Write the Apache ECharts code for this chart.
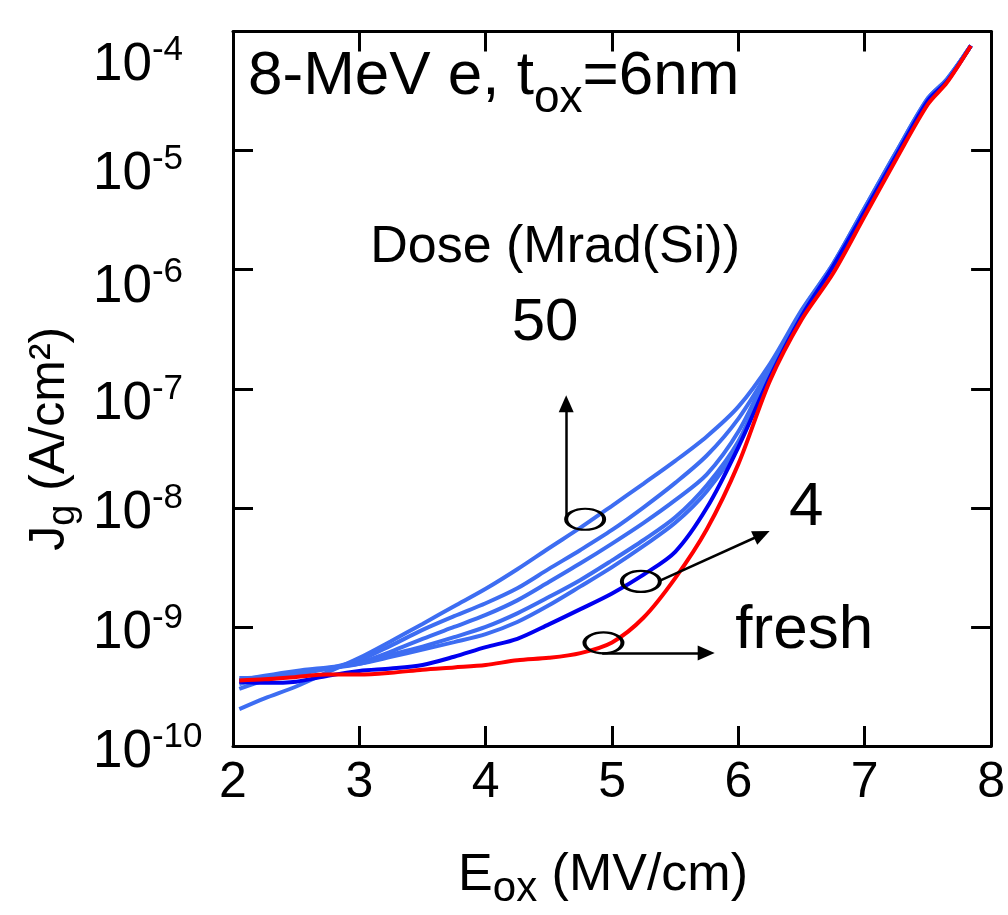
<!DOCTYPE html>
<html>
<head>
<meta charset="utf-8">
<script src="https://cdn.jsdelivr.net/npm/echarts@6/dist/echarts.min.js"></script>
<style>
html,body{margin:0;padding:0;background:#ffffff;}
#chart{width:1008px;height:915px;}
</style>
</head>
<body>
<div id="chart"></div>
<script>
// ---------------- data ----------------
// oxide field E_ox (MV/cm)
const fieldEox = [2.05, 2.25, 2.5, 2.75, 3.0, 3.25, 3.5, 3.75, 4.0, 4.25, 4.5, 4.75, 5.0, 5.25, 5.5, 5.75, 6.0, 6.25, 6.5, 6.75, 7.0, 7.25, 7.5, 7.65, 7.84];

// gate current density J_g (A/cm^2)
const jgDose50 = [2.04e-10, 2.51e-10, 3.16e-10, 4.17e-10, 5.50e-10, 7.59e-10, 1.06e-9, 1.49e-9, 2.09e-9, 3.05e-9, 4.58e-9, 6.81e-9, 1.04e-8, 1.60e-8, 2.48e-8, 3.98e-8, 7.08e-8, 1.62e-7, 4.57e-7, 1.12e-6, 3.31e-6, 9.77e-6, 2.75e-5, 3.98e-5, 7.6e-5];
const jgDoseL5 = [3.02e-10, 3.55e-10, 3.98e-10, 4.47e-10, 5.25e-10, 6.97e-10, 9.44e-10, 1.23e-9, 1.58e-9, 2.11e-9, 3.07e-9, 4.43e-9, 6.52e-9, 1.01e-8, 1.62e-8, 2.75e-8, 5.62e-8, 1.48e-7, 4.47e-7, 1.12e-6, 3.31e-6, 9.77e-6, 2.75e-5, 3.98e-5, 7.6e-5];
const jgDoseL4 = [3.31e-10, 3.72e-10, 4.07e-10, 4.47e-10, 5.01e-10, 6.21e-10, 7.94e-10, 1.00e-9, 1.26e-9, 1.67e-9, 2.38e-9, 3.42e-9, 5.01e-9, 7.48e-9, 1.16e-8, 1.91e-8, 4.37e-8, 1.45e-7, 4.37e-7, 1.10e-6, 3.24e-6, 9.55e-6, 2.69e-5, 3.89e-5, 7.6e-5];
const jgDoseL3 = [3.72e-10, 3.80e-10, 4.17e-10, 4.47e-10, 4.90e-10, 5.83e-10, 6.84e-10, 8.20e-10, 1.00e-9, 1.30e-9, 1.78e-9, 2.48e-9, 3.62e-9, 5.37e-9, 8.32e-9, 1.55e-8, 3.63e-8, 1.38e-7, 4.27e-7, 1.10e-6, 3.24e-6, 9.55e-6, 2.69e-5, 3.89e-5, 7.6e-5];
const jgDoseL2 = [3.55e-10, 3.89e-10, 4.27e-10, 4.57e-10, 4.90e-10, 5.60e-10, 6.46e-10, 7.46e-10, 8.71e-10, 1.10e-9, 1.52e-9, 2.19e-9, 3.18e-9, 4.79e-9, 7.48e-9, 1.38e-8, 3.39e-8, 1.32e-7, 4.17e-7, 1.07e-6, 3.16e-6, 9.33e-6, 2.63e-5, 3.89e-5, 7.6e-5];
const jgDose4 = [3.47e-10, 3.39e-10, 3.47e-10, 3.89e-10, 4.27e-10, 4.47e-10, 4.79e-10, 5.62e-10, 6.76e-10, 7.94e-10, 1.05e-9, 1.41e-9, 1.91e-9, 2.75e-9, 4.27e-9, 1.00e-8, 3.24e-8, 1.26e-7, 4.07e-7, 1.07e-6, 3.09e-6, 9.12e-6, 2.63e-5, 3.80e-5, 7.6e-5];
const jgFresh = [3.55e-10, 3.63e-10, 3.80e-10, 3.98e-10, 3.98e-10, 4.12e-10, 4.37e-10, 4.57e-10, 4.79e-10, 5.25e-10, 5.50e-10, 6.03e-10, 7.41e-10, 1.20e-9, 2.57e-9, 6.61e-9, 2.34e-8, 1.17e-7, 3.80e-7, 9.33e-7, 2.82e-6, 8.51e-6, 2.45e-5, 3.72e-5, 7.6e-5];

// axis ticks
const xTicks = [2, 3, 4, 5, 6, 7, 8];
const yTickExponents = [-10, -9, -8, -7, -6, -5, -4];

// annotation anchors (data coordinates: E_ox, J_g)
const ellipseE = [4.787, 5.228, 4.932];
const ellipseJ = [8.02e-9, 2.41e-9, 7.35e-10];
const arrowFrom = [[4.637, 8.02e-9], [5.375, 2.44e-9], [4.922, 6.05e-10]];
const arrowTo = [[4.637, 7.49e-8], [6.186, 5.97e-9], [5.745, 6.05e-10]];
const noteTexts = ['Dose (Mrad(Si))', '50', '4', 'fresh'];
const noteE = [4.549, 4.470, 6.537, 6.521];
const noteJ = [1.53e-6, 3.56e-7, 1.0e-8, 9.27e-10];

// ---------------- styling ----------------
const FONT = "'Liberation Sans', Arial, Helvetica, sans-serif";
const LIGHT = '#3d6df2';
const DARK = '#0000f0';
const RED = '#ff0000';
const noteSizes = [52, 60, 62, 62];

function pairs(ys) { return fieldEox.map((x, i) => [x, ys[i]]); }

const lineDefs = [
  { name: 'dose 50 Mrad(Si)', data: jgDose50, color: LIGHT },
  { name: 'dose level 5', data: jgDoseL5, color: LIGHT },
  { name: 'dose level 4', data: jgDoseL4, color: LIGHT },
  { name: 'dose level 3', data: jgDoseL3, color: LIGHT },
  { name: 'dose level 2', data: jgDoseL2, color: LIGHT },
  { name: 'dose 4 Mrad(Si)', data: jgDose4, color: DARK },
  { name: 'fresh', data: jgFresh, color: RED }
];

// per-label vertical shift of y tick labels (px)
const yLabelShift = { '-4': 14, '-5': 9, '-6': 6, '-7': 5, '-8': -3, '-9': -3, '-10': -17 };
const yRich = {};
yTickExponents.forEach(e => {
  const d = yLabelShift[String(e)];
  const pt = Math.max(d, 0) * 2, pb = Math.max(-d, 0) * 2;
  yRich['b' + (-e)] = { fontSize: 53, lineHeight: 53, fontFamily: FONT, color: '#000', verticalAlign: 'top', padding: [6 + pt, 0, pb, 0] };
  yRich['s' + (-e)] = { fontSize: 35, lineHeight: 35, fontFamily: FONT, color: '#000', verticalAlign: 'top', padding: [pt, 0, pb, 0] };
});

const axisLineStyle = { lineStyle: { color: '#000', width: 3 } };
const tickStyle = { show: true, inside: true, length: 20, lineStyle: { color: '#000', width: 3 } };

const series = lineDefs.map(d => ({
  name: d.name,
  type: 'line',
  data: pairs(d.data),
  showSymbol: false,
  smooth: 0.3,
  lineStyle: { color: d.color, width: 4 },
  itemStyle: { color: d.color },
  silent: true,
  z: 2
}));

series.push({
  name: 'markers',
  type: 'scatter',
  silent: true,
  symbol: 'circle',
  symbolSize: [38, 21],
  itemStyle: { color: 'rgba(0,0,0,0)', borderColor: '#000', borderWidth: 3, opacity: 1 },
  data: ellipseE.map((x, i) => [x, ellipseJ[i]]),
  z: 5,
  markLine: {
    silent: true,
    animation: false,
    symbol: ['none', 'triangle'],
    symbolSize: [15, 17],
    label: { show: false },
    lineStyle: { color: '#000', width: 2.5, type: 'solid', opacity: 1 },
    data: arrowFrom.map((p, i) => [{ coord: p }, { coord: arrowTo[i] }])
  }
});

series.push({
  name: 'notes',
  type: 'scatter',
  silent: true,
  symbolSize: 0,
  itemStyle: { opacity: 1 },
  z: 6,
  data: noteTexts.map((t, i) => ({
    name: t,
    value: [noteE[i], noteJ[i]],
    label: {
      show: true, position: 'inside', formatter: t, opacity: 1,
      fontSize: noteSizes[i], fontFamily: FONT, fontWeight: 'normal', color: '#000000'
    }
  }))
});

const option = {
  animation: false,
  backgroundColor: '#ffffff',
  title: {
    left: 248, top: 46, padding: 0,
    text: '{m|8-MeV e, t}{s|ox}{m|=6nm}',
    textStyle: {
      fontWeight: 'normal',
      rich: {
        m: { fontSize: 62, lineHeight: 62, fontFamily: FONT, fontWeight: 'normal', color: '#000', verticalAlign: 'top' },
        s: { fontSize: 46, lineHeight: 46, fontFamily: FONT, fontWeight: 'normal', color: '#000', verticalAlign: 'top', padding: [30, 0, 0, 0] }
      }
    }
  },
  grid: { left: 233, right: 16.5, top: 31.5, bottom: 166.5, containLabel: false },
  xAxis: [
    {
      type: 'value', position: 'bottom', min: xTicks[0], max: xTicks[xTicks.length - 1], interval: 1,
      axisLine: axisLineStyle, axisTick: tickStyle, splitLine: { show: false },
      axisLabel: { margin: 12, fontSize: 50, fontFamily: FONT, color: '#000', formatter: v => String(v) },
      name: '{m|E}{s|ox}{m| (MV/cm)}', nameLocation: 'middle', nameGap: 104,
      nameTextStyle: {
        padding: [0, 18, 0, 0],
        rich: {
          m: { fontSize: 52, lineHeight: 52, fontFamily: FONT, color: '#000', verticalAlign: 'top' },
          s: { fontSize: 42, lineHeight: 42, fontFamily: FONT, color: '#000', verticalAlign: 'top', padding: [18, 0, 0, 0] }
        }
      }
    },
    {
      type: 'value', position: 'top', min: xTicks[0], max: xTicks[xTicks.length - 1], interval: 1,
      axisLine: axisLineStyle, axisTick: tickStyle, axisLabel: { show: false }, splitLine: { show: false }
    }
  ],
  yAxis: [
    {
      type: 'log', logBase: 10, position: 'left',
      min: Math.pow(10, yTickExponents[0]), max: Math.pow(10, yTickExponents[yTickExponents.length - 1]),
      splitNumber: 6,
      axisLine: axisLineStyle, axisTick: tickStyle, splitLine: { show: false }, minorTick: { show: false },
      axisLabel: {
        margin: 140, align: 'left', verticalAlign: 'middle', showMinLabel: true, showMaxLabel: true,
        formatter: v => { const e = Math.round(Math.log10(v)); return '{b' + (-e) + '|10}{s' + (-e) + '|' + e + '}'; },
        rich: yRich
      },
      name: '{m|J}{s|g}{m| (A/cm²)}', nameLocation: 'middle', nameGap: 146, nameRotate: 90,
      nameTextStyle: {
        padding: [0, 100, 0, 0],
        rich: {
          m: { fontSize: 50, lineHeight: 50, fontFamily: FONT, color: '#000', verticalAlign: 'top' },
          s: { fontSize: 38, lineHeight: 38, fontFamily: FONT, color: '#000', verticalAlign: 'top', padding: [19, 0, 0, 0] }
        }
      }
    },
    {
      type: 'log', logBase: 10, position: 'right',
      min: Math.pow(10, yTickExponents[0]), max: Math.pow(10, yTickExponents[yTickExponents.length - 1]),
      splitNumber: 6,
      axisLine: axisLineStyle, axisTick: tickStyle, axisLabel: { show: false }, splitLine: { show: false }
    }
  ],
  series: series
};

const chart = echarts.init(document.getElementById('chart'), null, { renderer: 'canvas' });
chart.setOption(option);
</script>
</body>
</html>
